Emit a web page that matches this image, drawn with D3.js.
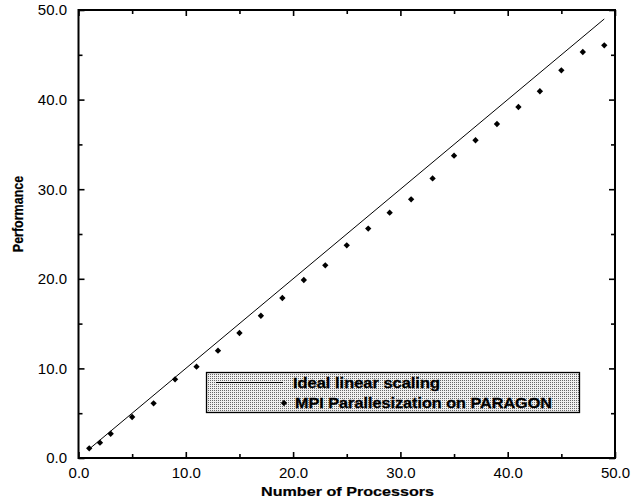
<!DOCTYPE html>
<html>
<head>
<meta charset="utf-8">
<script src="https://cdn.jsdelivr.net/npm/d3@7"></script>
<style>
  html, body { margin: 0; padding: 0; background: #fff; }
  svg { display: block; }
  text { font-family: "Liberation Sans", Arial, Helvetica, sans-serif; fill: #000; }
</style>
</head>
<body>
<svg id="chart" width="633" height="504"></svg>
<script>
// Measured speed-up on the PARAGON (MPI) against ideal linear scaling
const processors = [1, 2, 3, 5, 7, 9, 11, 13, 15, 17, 19, 21, 23, 25, 27, 29, 31, 33, 35, 37, 39, 41, 43, 45, 47, 49];
const performance = [1.08, 1.71, 2.71, 4.58, 6.1, 8.78, 10.19, 11.98, 13.95, 15.88, 17.86, 19.87, 21.5, 23.74, 25.6,
                     27.38, 28.87, 31.2, 33.74, 35.46, 37.28, 39.17, 40.93, 43.27, 45.31, 46.06];
const idealProcessors = [1, 49];
const idealPerformance = [1, 49];

const majorTicks = [0, 10, 20, 30, 40, 50];
const minorTicks = [5, 15, 25, 35, 45];
const tickLabels = ["0.0", "10.0", "20.0", "30.0", "40.0", "50.0"];

const legendLabels = ["Ideal linear scaling", "MPI Parallesization on PARAGON"];
const xTitle = "Number of Processors";
const yTitle = "Performance";

const svg = d3.select("#chart");
const plotLeft = 78.5, plotRight = 615, plotTop = 10, plotBottom = 458;

const x = d3.scaleLinear().domain([0, 50]).range([plotLeft, plotRight]);
const y = d3.scaleLinear().domain([0, 50]).range([plotBottom, plotTop]);

// halftone fill for the legend box
const defs = svg.append("defs");
const pat = defs.append("pattern").attr("id", "halftone")
  .attr("patternUnits", "userSpaceOnUse").attr("width", 2).attr("height", 2);
pat.append("rect").attr("width", 2).attr("height", 2).attr("fill", "#f0f0f0");
pat.append("rect").attr("width", 1).attr("height", 1).attr("fill", "#686868");

// inward ticks on all four sides
function ticks(axisFn, scale, values, size, transform) {
  const g = svg.append("g").attr("transform", transform)
    .call(axisFn(scale).tickValues(values).tickSize(-size).tickFormat(""));
  g.select(".domain").remove();
  g.selectAll(".tick line").attr("stroke", "#000").attr("stroke-width", 1.6);
}
ticks(d3.axisBottom, x, majorTicks, 6, `translate(0,${plotBottom})`);
ticks(d3.axisBottom, x, minorTicks, 4, `translate(0,${plotBottom})`);
ticks(d3.axisTop, x, majorTicks, 6, `translate(0,${plotTop})`);
ticks(d3.axisTop, x, minorTicks, 4, `translate(0,${plotTop})`);
ticks(d3.axisLeft, y, majorTicks, 6, `translate(${plotLeft},0)`);
ticks(d3.axisLeft, y, minorTicks, 4, `translate(${plotLeft},0)`);
ticks(d3.axisRight, y, majorTicks, 6, `translate(${plotRight},0)`);
ticks(d3.axisRight, y, minorTicks, 4, `translate(${plotRight},0)`);

// tick labels
const labelFmt = (d) => tickLabels[majorTicks.indexOf(d)];
const xl = svg.append("g").attr("transform", `translate(0,${plotBottom})`)
  .call(d3.axisBottom(x).tickValues(majorTicks).tickSize(0).tickPadding(9.5).tickFormat(labelFmt));
xl.select(".domain").remove();
const yl = svg.append("g").attr("transform", `translate(${plotLeft},0)`)
  .call(d3.axisLeft(y).tickValues(majorTicks).tickSize(0).tickPadding(11.5).tickFormat(labelFmt));
yl.select(".domain").remove();
svg.selectAll(".tick text").attr("font-size", 15).attr("font-family", "Liberation Sans, Arial, sans-serif").attr("fill", "#000");

// frame
svg.append("rect").attr("x", plotLeft).attr("y", plotTop)
  .attr("width", plotRight - plotLeft).attr("height", plotBottom - plotTop)
  .attr("fill", "none").attr("stroke", "#000").attr("stroke-width", 2);

// ideal scaling line
const line = d3.line().x((d, i) => x(idealProcessors[i])).y((d) => y(d));
svg.append("path").datum(idealPerformance)
  .attr("d", line).attr("fill", "none").attr("stroke", "#000").attr("stroke-width", 1);

// measured points
const diamond = d3.symbol().type(d3.symbolSquare).size(20);
svg.append("g").selectAll("path").data(performance).join("path")
  .attr("d", diamond)
  .attr("transform", (d, i) => `translate(${x(processors[i])},${y(d)}) rotate(45)`)
  .attr("fill", "#000");

// legend
const lg = svg.append("g");
lg.append("rect").attr("x", 206.5).attr("y", 372.5).attr("width", 373).attr("height", 40)
  .attr("fill", "url(#halftone)").attr("stroke", "#000").attr("stroke-width", 1.3);
lg.append("line").attr("x1", 216).attr("x2", 283).attr("y1", 382.5).attr("y2", 382.5)
  .attr("stroke", "#000").attr("stroke-width", 1);
lg.append("path").attr("d", diamond).attr("transform", "translate(284,403) rotate(45)").attr("fill", "#000");
lg.append("text").attr("x", 293).attr("y", 387.5).attr("font-size", 14.5).attr("font-weight", "bold")
  .attr("stroke", "#000").attr("stroke-width", 0.3)
  .attr("textLength", 147).attr("lengthAdjust", "spacingAndGlyphs").text(legendLabels[0]);
lg.append("text").attr("x", 295).attr("y", 407.5).attr("font-size", 14.5).attr("font-weight", "bold")
  .attr("stroke", "#000").attr("stroke-width", 0.3)
  .attr("textLength", 257).attr("lengthAdjust", "spacingAndGlyphs").text(legendLabels[1]);

// axis titles
svg.append("text").attr("x", 261).attr("y", 496).attr("font-size", 13.5).attr("font-weight", "bold")
  .attr("stroke", "#000").attr("stroke-width", 0.2)
  .attr("textLength", 173).attr("lengthAdjust", "spacingAndGlyphs").text(xTitle);
svg.append("text").attr("transform", "translate(23,214) scale(1.2,1) rotate(-90)")
  .attr("text-anchor", "middle").attr("font-size", 12.5).attr("font-weight", "bold")
  .attr("stroke", "#000").attr("stroke-width", 0.2).text(yTitle);
</script>
</body>
</html>
